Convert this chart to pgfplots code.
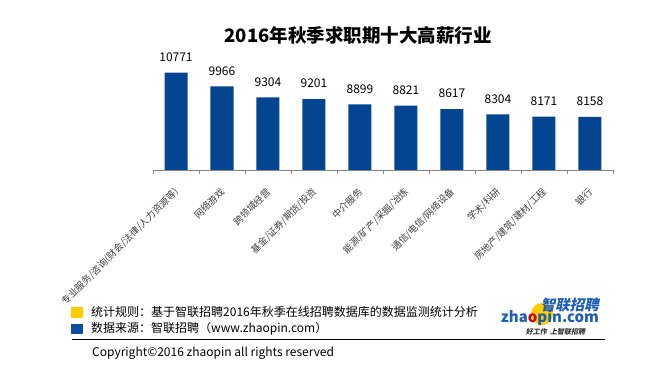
\documentclass[border=0pt]{standalone}
\usepackage{fontspec}
\setmainfont{Noto Sans CJK SC}
\usepackage{pgfplots}
\pgfplotsset{compat=1.18}
\definecolor{barblue}{RGB}{3,69,145}
\definecolor{sqyellow}{RGB}{255,204,0}
\definecolor{sqblue}{RGB}{12,77,162}
\definecolor{logoblue}{RGB}{29,95,182}
\definecolor{labgray}{RGB}{64,64,64}
\definecolor{axgray}{RGB}{134,134,134}
\begin{document}
\begin{tikzpicture}[x=1pt,y=1pt]
\path[fill=white] (0,0) rectangle (648,371);
\begin{axis}[
  at={(153pt,201pt)}, anchor=south west,
  scale only axis, width=460pt, height=118pt,
  xmin=-0.5, xmax=9.5, ymin=5000, ymax=12000,
  axis y line=none, axis x line*=bottom,
  x axis line style={-, draw=axgray, line width=0.8pt},
  xtick={0,...,9},
  xticklabels={专业服务/咨询(财会/法律/人力资源等),网络游戏,跨领域经营,基金/证券/期货/投资,中介服务,能源/矿产/采掘/冶炼,通信/电信/网络设备,学术/科研,房地产/建筑/建材/工程,银行},
  major x tick style={draw=none},
  extra x ticks={-0.5,0.5,...,9.5},
  extra x tick labels={},
  extra x tick style={tick align=outside, major tick length=4pt, major x tick style={draw=axgray, line width=0.8pt}},
  xticklabel style={font=\fontsize{9.5}{11}\selectfont, text=labgray, inner sep=0pt, anchor=east, rotate=45, xshift=1pt},
  xticklabel shift=16.5pt,
  clip=false,
  ybar, bar width=23pt,
  nodes near coords,
  /pgf/number format/.cd, 1000 sep={}, assume math mode=true, /pgfplots/.cd,
  every node near coord/.append style={font=\fontsize{12}{14}\selectfont, text=black, anchor=center, yshift=15.5pt},
]
\addplot[fill=barblue, draw=none] coordinates {(0,10771) (1,9966) (2,9304) (3,9201) (4,8899) (5,8821) (6,8617) (7,8304) (8,8171) (9,8158)};
\end{axis}
% title
\node[font=\fontsize{18.5}{20}\selectfont\bfseries] at (358,336) {2016年秋季求职期十大高薪行业};
% footer
\fill[sqyellow] (71,53.3) rectangle (82.7,64.3);
\fill[sqblue] (71,37) rectangle (82.7,47);
\node[anchor=west, font=\fontsize{12}{14}\selectfont, inner sep=0pt] at (91,59) {统计规则：基于智联招聘2016年秋季在线招聘数据库的数据监测统计分析};
\node[anchor=west, font=\fontsize{12}{14}\selectfont, inner sep=0pt] at (91,42) {数据来源：智联招聘（www.zhaopin.com）};
\draw[black, line width=1pt] (72,31) -- (605,31);
\node[anchor=west, font=\fontsize{12}{14}\selectfont, inner sep=0pt] at (92,18) {Copyright©2016 zhaopin all rights reserved};
% logo
\fill[sqyellow] (542,57) circle (11);
\node[font=\fontsize{14.5}{16}\selectfont\bfseries, text=logoblue, inner sep=0pt, xslant=0.2] at (571,66) {智联招聘};
\node[font=\fontsize{15}{16}\selectfont\bfseries, text=logoblue, inner sep=0pt] at (550,53) {zha\textcolor{red!80!black}{o}pin.com};
\node[font=\fontsize{7}{8}\selectfont\bfseries, text=black!80, inner sep=0pt, xslant=0.2] at (556,39) {好工作\ \ 上智联招聘};
\end{tikzpicture}
\end{document}
